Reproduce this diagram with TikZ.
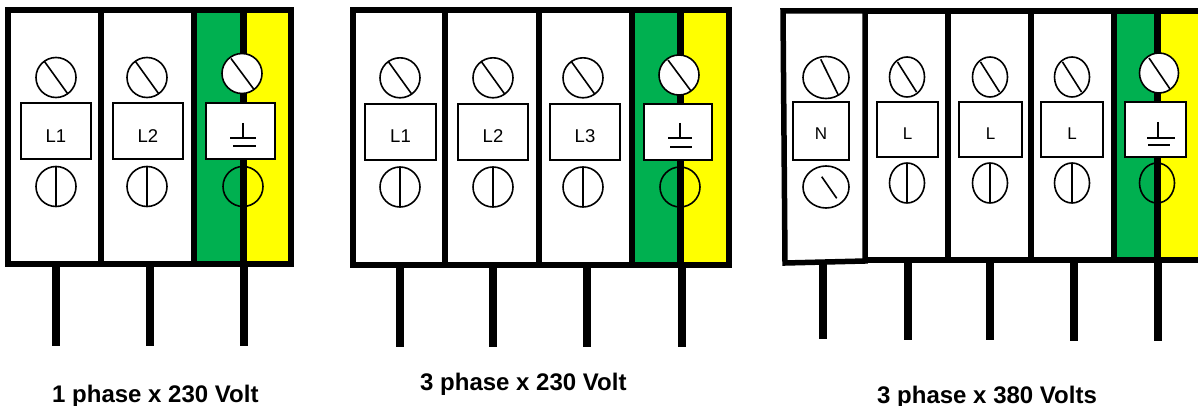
\documentclass[tikz,border=0pt]{standalone}
\usepackage{fontspec}
\setmainfont{Liberation Sans}
\definecolor{egreen}{HTML}{00B050}
\definecolor{eyellow}{HTML}{FFFF00}
\tikzset{
  frame/.style={line width=5.5pt, line join=miter},
  wire/.style={line width=8pt},
  ring/.style={line width=1.6pt},
  lbox/.style={draw, line width=1.5pt, fill=white, rectangle, inner sep=0pt},
  ltext/.style={anchor=base, font=\fontsize{18.5}{20}\selectfont, inner sep=0pt},
  ntext/.style={anchor=base, font=\fontsize{17}{18}\selectfont, inner sep=0pt},
  caption/.style={anchor=base west, font=\bfseries\fontsize{24}{26}\selectfont, inner sep=0pt},
  gnd/.style={line width=2pt},
  core/.style={line width=7pt},
}
\begin{document}
\begin{tikzpicture}[x=1pt, y=-1pt]
\useasboundingbox (0,0) rectangle (1198,406);
\clip (0,0) rectangle (1198,406);

% ================= Block 1 =================
\fill[white] (8,10) rectangle (291,264);
\fill[egreen] (194,10) rectangle (243,264);
\fill[eyellow] (243,10) rectangle (291,264);
\draw[core] (243,10) -- (243,264);
\foreach \cx/\bl/\br/\lab/\nm in {56/21/91/L1/a, 147/113/183/L2/b} {
  \draw[ring] (\cx,77.5) circle [radius=20];
  \draw[ring] (\cx,77.5) ++(-11.5,-16) -- ++(23,32);
  \draw[ring] (\cx,186.5) circle [radius=20];
  \draw[ring] (\cx,166.5) -- (\cx,206.5);
  \node[lbox, minimum width={\br-\bl}, minimum height=56pt] (p1box\nm) at ({(\bl+\br)/2},131) {};
  \node[ltext] (p1lab\nm) at ({(\bl+\br)/2},143) {\lab};
}
% earth module
\draw[ring, fill=white] (242,73.5) circle [radius=20];
\draw[ring] (242,73.5) ++(-11,-15) -- ++(23,31);
\node[lbox, minimum width=69pt, minimum height=56pt] (p1boxe) at (240.5,131) {};
\draw[gnd] (243,123) -- (243,138);
\draw[gnd] (230,138) -- (256,138);
\draw[gnd] (233,146) -- (256,146);
\draw[ring] (243,186.5) circle [radius=20];
% outline
\draw[frame] (8,10) rectangle (291,264);
\draw[frame] (101,10) -- (101,264);
\draw[frame] (194,10) -- (194,264);
% wires
\foreach \wx in {56,150,244} \draw[wire] (\wx,264) -- (\wx,346);

% ================= Block 2 =================
\fill[white] (353,10) rectangle (729,265);
\fill[egreen] (632,10) rectangle (680,265);
\fill[eyellow] (680,10) rectangle (729,265);
\draw[core] (680,10) -- (680,265);
\foreach \cx/\bl/\br/\lab/\nm in {400/365/436/L1/a, 493/458/528/L2/b, 583/550/620/L3/c} {
  \draw[ring] (\cx,77.8) circle [radius=20];
  \draw[ring] (\cx,77.8) ++(-11.5,-16) -- ++(23,32);
  \draw[ring] (\cx,187) circle [radius=20];
  \draw[ring] (\cx,167) -- (\cx,207);
  \node[lbox, minimum width={\br-\bl}, minimum height=56pt] (p2box\nm) at ({(\bl+\br)/2},132) {};
  \node[ltext] (p2lab\nm) at ({(\bl+\br)/2},143) {\lab};
}
\draw[ring, fill=white] (679,75) circle [radius=20];
\draw[ring] (679,75) ++(-11,-15) -- ++(23,31);
\node[lbox, minimum width=68pt, minimum height=56pt] (p2boxe) at (678,132) {};
\draw[gnd] (680,123) -- (680,138);
\draw[gnd] (668,138) -- (692,138);
\draw[gnd] (670,147) -- (692,147);
\draw[ring] (680,187) circle [radius=20];
\draw[frame] (353,10) rectangle (729,265);
\foreach \dx in {445,539,632} \draw[frame] (\dx,10) -- (\dx,265);
\foreach \wx in {400,493,587,682} \draw[wire] (\wx,265) -- (\wx,347);

% ================= Block 3 =================
\fill[white] (783,11) -- (865,11) -- (865,261) -- (785,263) -- cycle;
\fill[white] (865,11) rectangle (1114,260);
\fill[egreen] (1114,11) rectangle (1157,260);
\fill[eyellow] (1157,11) rectangle (1210,260);
\draw[core] (1157,11) -- (1157,260);
% N module
\draw[ring] (826,77.5) ellipse [x radius=23, y radius=21];
\draw[ring] (820.7,59.3) -- (838.3,95);
\draw[ring] (826,187) ellipse [x radius=23, y radius=21];
\draw[ring] (821.7,176.7) -- (836.7,198.3);
\node[lbox, minimum width=56pt, minimum height=58pt] (p3boxn) at (821,131) {};
\node[ntext] (p3labn) at (821,140) {N};
% L modules
\foreach \cx/\bl/\br/\nm in {907/877/938/a, 990/959/1022/b, 1072/1041/1103/c} {
  \draw[ring] (\cx,77) ellipse [x radius=17.5, y radius=20];
  \draw[ring] (\cx,77) ++(-9.5,-15) -- ++(19,30);
  \draw[ring] (\cx,183) ellipse [x radius=17.5, y radius=20];
  \draw[ring] (\cx,163) -- (\cx,203);
  \node[lbox, minimum width={\br-\bl}, minimum height=55pt] (p3box\nm) at ({(\bl+\br)/2},129.5) {};
  \node[ntext] (p3lab\nm) at ({(\bl+\br)/2},140) {L};
}
% earth
\draw[ring, fill=white] (1159,73) ellipse [x radius=19.5, y radius=20];
\draw[ring] (1159,73) ++(-10,-15) -- ++(21,31);
\node[lbox, minimum width=61pt, minimum height=55pt] (p3boxe) at (1155.5,129.5) {};
\draw[gnd] (1158,122) -- (1158,138);
\draw[gnd] (1147,138) -- (1175,138);
\draw[gnd] (1148,145) -- (1170,145);
\draw[ring] (1157,183) ellipse [x radius=17.5, y radius=20];
% outline
\draw[frame] (783,11) -- (865,11) -- (865,261) -- (785,263) -- cycle;
\draw[frame] (865,11) -- (1210,11);
\draw[frame] (865,260) -- (1210,260);
\foreach \dx in {948,1031,1114} \draw[frame] (\dx,11) -- (\dx,260);
\foreach \wx/\wb in {823/339, 907.5/340, 990/340, 1074/341, 1158/341} \draw[wire] (\wx,261) -- (\wx,\wb);

% ================= Captions =================
\node[caption] (cap1) at (52,402) {1 phase x 230 Volt};
\node[caption] (cap2) at (420,390) {3 phase x 230 Volt};
\node[caption] (cap3) at (877,403) {3 phase x 380 Volts};
\end{tikzpicture}
\end{document}
